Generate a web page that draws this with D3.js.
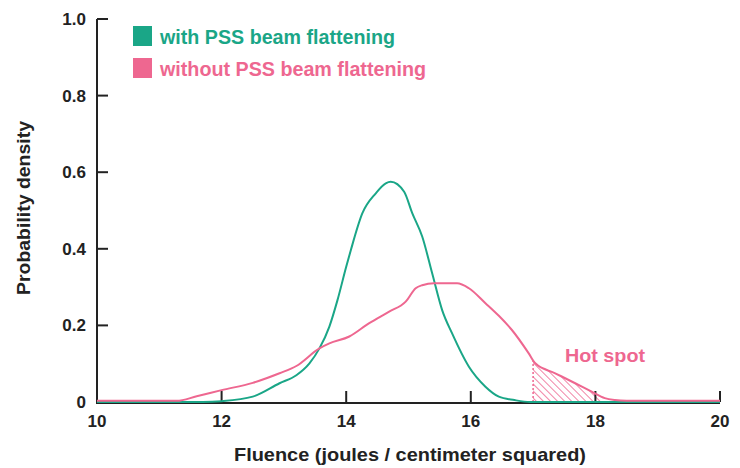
<!DOCTYPE html>
<html>
<head>
<meta charset="utf-8">
<script src="https://cdn.jsdelivr.net/npm/d3@7"></script>
<style>
  body { margin: 0; background: #fff; }
  text { font-family: "Liberation Sans", Arial, sans-serif; font-weight: bold; }
</style>
</head>
<body>
<script>
const width = 740;
const height = 468;

// fluence values (J/cm^2) and probability density
const withFluence = [10, 11.7, 12.0, 12.5, 12.93, 13.2, 13.41, 13.57, 13.73, 13.86, 14.0, 14.075, 14.26, 14.475, 14.635, 14.715, 14.93, 15.06, 15.22, 15.38, 15.54, 15.7, 15.97, 16.235, 16.45, 16.7, 16.95, 20];
const withDensity = [0, 0, 0.002, 0.014, 0.049, 0.07, 0.101, 0.140, 0.197, 0.266, 0.353, 0.397, 0.493, 0.545, 0.571, 0.575, 0.549, 0.493, 0.432, 0.336, 0.240, 0.179, 0.092, 0.040, 0.014, 0.005, 0, 0];

const withoutFluence = [10, 11.28, 11.6, 12.0, 12.5, 12.93, 13.2, 13.57, 13.73, 14.05, 14.37, 14.69, 14.955, 15.115, 15.22, 15.41, 15.78, 15.97, 16.235, 16.45, 16.66, 16.93, 17.035, 17.355, 17.675, 17.94, 18.15, 18.31, 18.5, 20];
const withoutDensity = [0.003, 0.003, 0.015, 0.031, 0.05, 0.075, 0.094, 0.140, 0.153, 0.171, 0.206, 0.236, 0.262, 0.297, 0.305, 0.310, 0.310, 0.297, 0.258, 0.225, 0.188, 0.127, 0.101, 0.075, 0.049, 0.027, 0.010, 0.005, 0.003, 0.003];

const xTicks = [10, 12, 14, 16, 18, 20];
const yTicks = [0, 0.2, 0.4, 0.6, 0.8, 1.0];
const yTickLabels = ["0", "0.2", "0.4", "0.6", "0.8", "1.0"];
const hotSpotStart = 17;
const hotSpotEnd = 18.1;

const green = "#1aa687";
const pink = "#ee6790";

const x = d3.scaleLinear().domain([10, 20]).range([97, 720]);
const y = d3.scaleLinear().domain([0, 1]).range([402, 19]);

const svg = d3.select("body").append("svg")
  .attr("width", width)
  .attr("height", height);

// hatch pattern for the hot spot ("\" direction)
const defs = svg.append("defs");
defs.append("pattern")
  .attr("id", "hatch")
  .attr("patternUnits", "userSpaceOnUse")
  .attr("width", 5)
  .attr("height", 5)
  .attr("patternTransform", "rotate(-45)")
  .append("line")
  .attr("x1", 0).attr("y1", 0)
  .attr("x2", 0).attr("y2", 5)
  .attr("stroke", pink)
  .attr("stroke-width", 1.6);

const withData = withFluence.map((f, i) => ({ f, d: withDensity[i] }));
const withoutData = withoutFluence.map((f, i) => ({ f, d: withoutDensity[i] }));

// hot spot area under the pink curve
const interp = v => {
  const i = d3.bisectLeft(withoutFluence, v);
  const t = (v - withoutFluence[i - 1]) / (withoutFluence[i] - withoutFluence[i - 1]);
  return withoutDensity[i - 1] + t * (withoutDensity[i] - withoutDensity[i - 1]);
};
const hotData = withoutData.filter(p => p.f > hotSpotStart && p.f < hotSpotEnd);
hotData.unshift({ f: hotSpotStart, d: interp(hotSpotStart) });
hotData.push({ f: hotSpotEnd, d: interp(hotSpotEnd) });

svg.append("path")
  .datum(hotData)
  .attr("fill", "url(#hatch)")
  .attr("d", d3.area().x(p => x(p.f)).y0(y(0)).y1(p => y(p.d)));

svg.append("line")
  .attr("x1", x(hotSpotStart)).attr("x2", x(hotSpotStart))
  .attr("y1", y(0)).attr("y2", y(interp(hotSpotStart)))
  .attr("stroke", pink)
  .attr("stroke-width", 1.5)
  .attr("stroke-dasharray", "2,2");

// axes
const axisColor = "#222";
svg.append("line")
  .attr("x1", x(10)).attr("x2", x(20))
  .attr("y1", y(0) + 1).attr("y2", y(0) + 1)
  .attr("stroke", axisColor).attr("stroke-width", 2);
svg.append("line")
  .attr("x1", x(10)).attr("x2", x(10))
  .attr("y1", y(1)).attr("y2", y(0) + 2)
  .attr("stroke", axisColor).attr("stroke-width", 2);

svg.selectAll(".xtick")
  .data(xTicks.slice(1))
  .join("line")
  .attr("x1", d => x(d)).attr("x2", d => x(d))
  .attr("y1", y(0)).attr("y2", y(0) - 11)
  .attr("stroke", axisColor).attr("stroke-width", 2);

svg.selectAll(".ytick")
  .data(yTicks.slice(1))
  .join("line")
  .attr("x1", x(10)).attr("x2", x(10) + 11)
  .attr("y1", d => y(d)).attr("y2", d => y(d))
  .attr("stroke", axisColor).attr("stroke-width", 2);

svg.selectAll(".xlabel")
  .data(xTicks)
  .join("text")
  .attr("x", d => x(d))
  .attr("y", 427)
  .attr("text-anchor", "middle")
  .attr("font-size", 17)
  .attr("fill", axisColor)
  .text(d => d);

svg.selectAll(".ylabel")
  .data(yTicks)
  .join("text")
  .attr("x", 86)
  .attr("y", d => y(d) + 6)
  .attr("text-anchor", "end")
  .attr("font-size", 17)
  .attr("fill", axisColor)
  .text((d, i) => yTickLabels[i]);

svg.append("text")
  .attr("x", 410)
  .attr("y", 461)
  .attr("text-anchor", "middle")
  .attr("font-size", 19)
  .attr("fill", axisColor)
  .attr("textLength", 352)
  .attr("lengthAdjust", "spacingAndGlyphs")
  .text("Fluence (joules / centimeter squared)");

svg.append("text")
  .attr("transform", "translate(30,208) rotate(-90)")
  .attr("text-anchor", "middle")
  .attr("font-size", 18)
  .attr("fill", axisColor)
  .attr("textLength", 174)
  .attr("lengthAdjust", "spacingAndGlyphs")
  .text("Probability density");

// curves
const line = d3.line().x(p => x(p.f)).y(p => y(p.d)).curve(d3.curveMonotoneX);

svg.append("path")
  .datum(withData)
  .attr("fill", "none")
  .attr("stroke", green)
  .attr("stroke-width", 2)
  .attr("d", line);

svg.append("path")
  .datum(withoutData)
  .attr("fill", "none")
  .attr("stroke", pink)
  .attr("stroke-width", 2)
  .attr("d", line);

// legend
const legend = [
  { label: "with PSS beam flattening", color: green, len: 235 },
  { label: "without PSS beam flattening", color: pink, len: 266 }
];
const lg = svg.selectAll(".legend")
  .data(legend)
  .join("g")
  .attr("transform", (d, i) => `translate(133,${26 + i * 32})`);
lg.append("rect")
  .attr("width", 19).attr("height", 20)
  .attr("fill", d => d.color);
lg.append("text")
  .attr("x", 27)
  .attr("y", 18)
  .attr("font-size", 20)
  .attr("fill", d => d.color)
  .attr("textLength", d => d.len)
  .attr("lengthAdjust", "spacingAndGlyphs")
  .text(d => d.label);

svg.append("text")
  .attr("x", 565)
  .attr("y", 362)
  .attr("font-size", 18)
  .attr("fill", pink)
  .attr("textLength", 80)
  .attr("lengthAdjust", "spacingAndGlyphs")
  .text("Hot spot");
</script>
</body>
</html>
